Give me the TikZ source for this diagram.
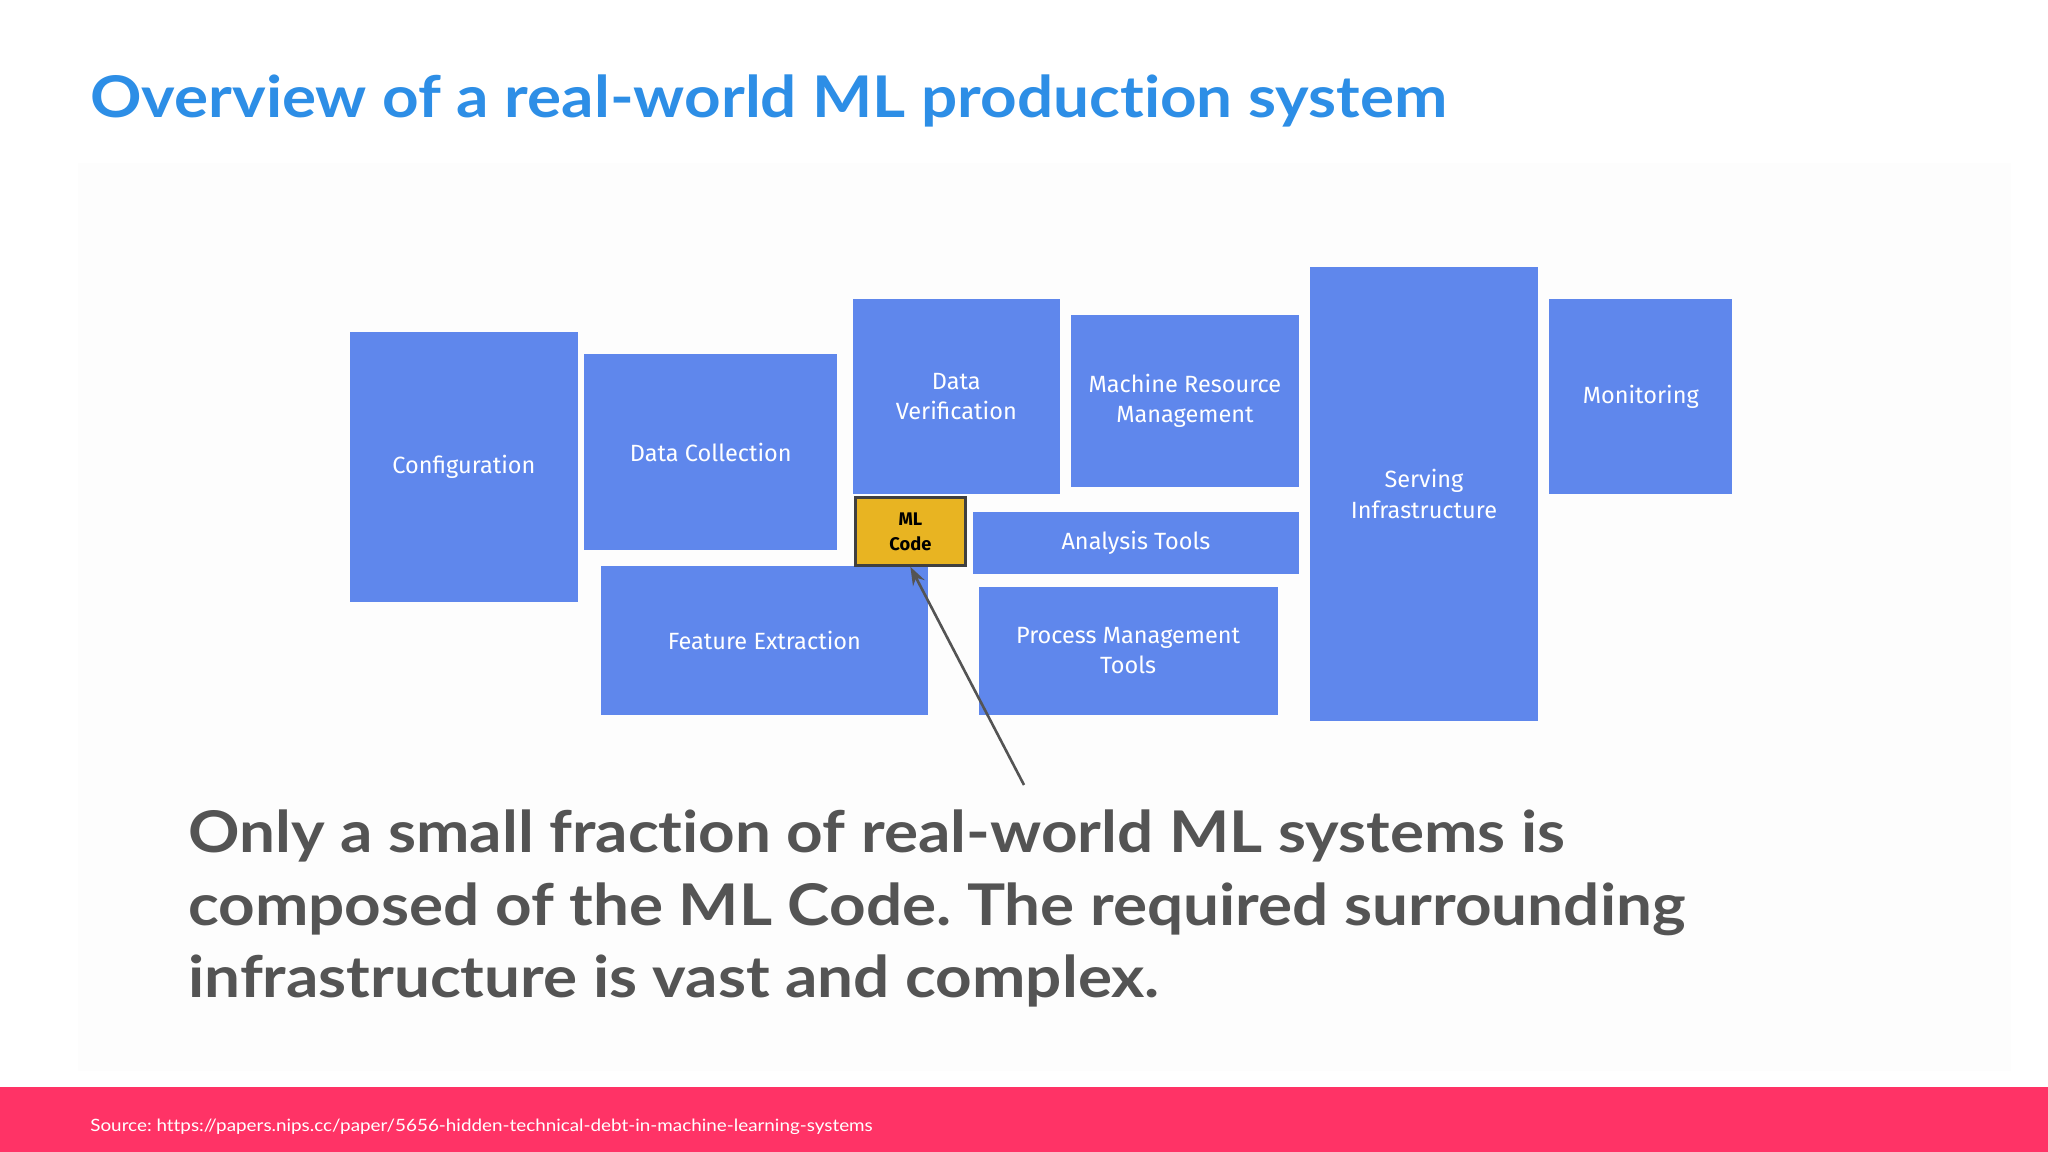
\documentclass[tikz,border=0pt]{standalone}
\usepackage{fontspec}
\setmainfont{Lato}[FakeStretch=1.11,Ligatures=CommonOff]
\newfontfamily\boxfont{Fira Sans}
\usetikzlibrary{arrows.meta}
\definecolor{boxblue}{HTML}{5F87EC}
\definecolor{titleblue}{HTML}{2D8EE6}
\definecolor{bodygray}{HTML}{545454}
\definecolor{barpink}{HTML}{FF3366}
\definecolor{mlyellow}{HTML}{E8B422}
\frenchspacing
\begin{document}
\begin{tikzpicture}[x=1pt,y=1pt,
  box/.style={fill=boxblue,draw=none,anchor=north west,inner sep=2pt,text=white,align=center,
    font=\boxfont\fontsize{18}{23}\selectfont}]
\useasboundingbox (0,0) rectangle (1568,-882);
\fill[white] (0,0) rectangle (1568,-882);
\fill[gray!1.5] (60,-125) rectangle (1540,-820);
\node[anchor=base west,text=titleblue,font=\bfseries\fontsize{44}{50}\selectfont,inner sep=0] (title) at (69,-90) {Overview of a real-world ML production system};
\node[box,minimum width=174,minimum height=207] (conf) at (268,-254) {Configuration};
\node[box,minimum width=194,minimum height=150] (dc) at (447,-271) {Data Collection};
\node[box,minimum width=158,minimum height=149] (dv) at (653,-229) {Data\\Verification};
\node[box,minimum width=174,minimum height=132] (mrm) at (820,-241) {Machine Resource\\Management};
\node[box,minimum width=174,minimum height=348] (si) at (1003,-204) {Serving\\Infrastructure};
\node[box,minimum width=140,minimum height=149] (mon) at (1186,-229) {Monitoring};
\node[box,minimum width=249,minimum height=47] (at) at (745,-392) {Analysis Tools};
\node[box,minimum width=250,minimum height=114] (fe) at (460,-433) {Feature Extraction};
\node[box,minimum width=229,minimum height=98] (pmt) at (749,-449) {Process Management\\Tools};
\node[fill=mlyellow,draw=black!75,line width=2pt,anchor=north west,minimum width=84,minimum height=52,inner sep=0,align=center,
  font=\boxfont\bfseries\fontsize{14}{19}\selectfont] (ml) at (654,-380) {ML\\Code};
\coordinate (tail) at (784,-601);
\draw[bodygray,line width=2pt,-{Stealth[length=14pt,width=10pt]}] (tail) -- (ml.south);
\node[anchor=north west,text=bodygray,align=left,inner sep=0,font=\bfseries\fontsize{44}{55.5}\selectfont] (body) at (144,-620)
 {Only a small fraction of real-world ML systems is\\composed of the ML Code. The required surrounding\\infrastructure is vast and complex.};
\fill[barpink] (0,-832) rectangle (1568,-882);
\node[anchor=base west,text=white,inner sep=0,font=\fontsize{13}{15}\selectfont] (src) at (69,-866) {Source: https://papers.nips.cc/paper/5656-hidden-technical-debt-in-machine-learning-systems};
\end{tikzpicture}
\end{document}
